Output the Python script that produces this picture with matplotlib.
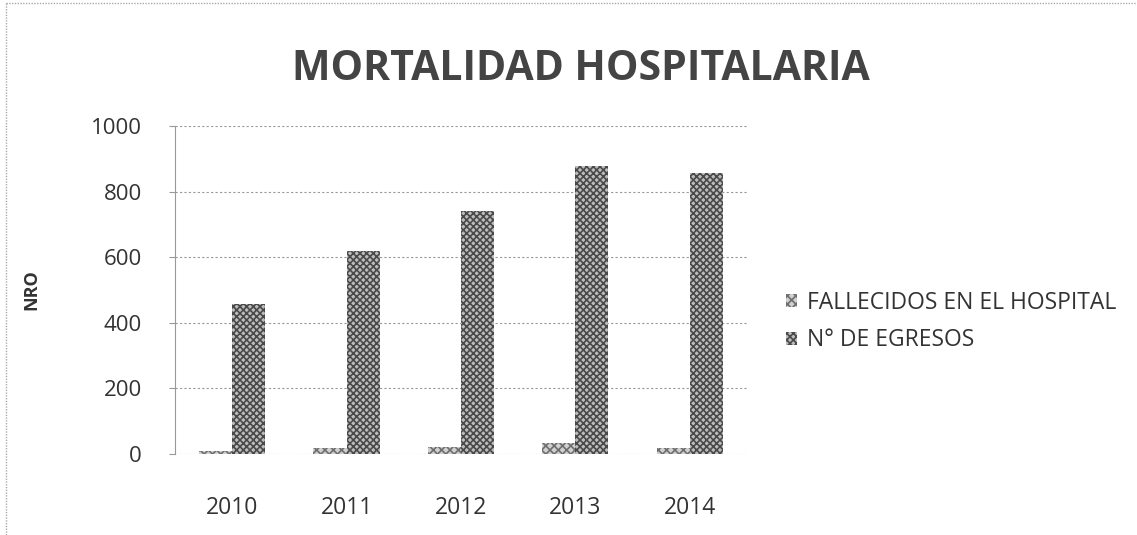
import matplotlib.pyplot as plt
import numpy as np
import matplotlib as mpl

plt.rcParams['font.family'] = ['Open Sans', 'DejaVu Sans']
mpl.rcParams['hatch.linewidth'] = 1.2

years = ['2010', '2011', '2012', '2013', '2014']
fallecidos = [10, 17, 22, 35, 18]
egresos = [458, 618, 742, 878, 858]

fig = plt.figure(figsize=(11.37, 5.35), dpi=100)
ax = fig.add_axes([0.1539, 0.1514, 0.503, 0.613])

x = np.arange(len(years))
w = 0.29
ax.bar(x - w / 2, fallecidos, w, color='#d0d0d0', edgecolor='#6e6e6e',
       hatch='xxxx', linewidth=0, label='FALLECIDOS EN EL HOSPITAL', zorder=3)
ax.bar(x + w / 2, egresos, w, color='#bdbdbd', edgecolor='#4a4a4a',
       hatch='xxxxx', linewidth=0, label='N° DE EGRESOS', zorder=3)

ax.set_ylim(0, 1000)
ax.set_xlim(-0.5, 4.5)
ax.set_yticks(range(0, 1001, 200))
ax.set_xticks(x)
ax.set_xticklabels(years)
ax.tick_params(axis='x', length=0, pad=30, labelsize=16.5, colors='#333333')
ax.tick_params(axis='y', length=4, direction='out', color='#999999', pad=20,
               labelsize=16, labelcolor='#333333')
ax.grid(axis='y', linestyle=(0, (2, 2)), color='#999999', linewidth=0.8, zorder=0)
for s in ['top', 'right', 'bottom']:
    ax.spines[s].set_visible(False)
ax.spines['left'].set_color('#999999')

ax.set_ylabel('NRO', fontsize=13, fontweight='bold', color='#333333', labelpad=36)

fig.text(0.511, 0.850, 'MORTALIDAD HOSPITALARIA', ha='center', va='baseline',
         fontsize=29.5, fontweight='bold', color='#444444')

ax.legend(loc='center left', bbox_to_anchor=(0.691, 0.399),
          bbox_transform=fig.transFigure, frameon=False, borderpad=0,
          borderaxespad=0, fontsize=16.5, handlelength=0.5, handleheight=0.5,
          handletextpad=0.45, labelspacing=0.6, labelcolor='#333333')

# dotted page border
fig.add_artist(plt.Line2D([0.005, 0.005], [0.0, 0.995], transform=fig.transFigure,
                          color='#aaaaaa', linestyle=(0, (1, 1)), linewidth=1))
fig.add_artist(plt.Line2D([0.005, 1.0], [0.995, 0.995], transform=fig.transFigure,
                          color='#aaaaaa', linestyle=(0, (1, 1)), linewidth=1))

fig.savefig('out.png', dpi=100)
